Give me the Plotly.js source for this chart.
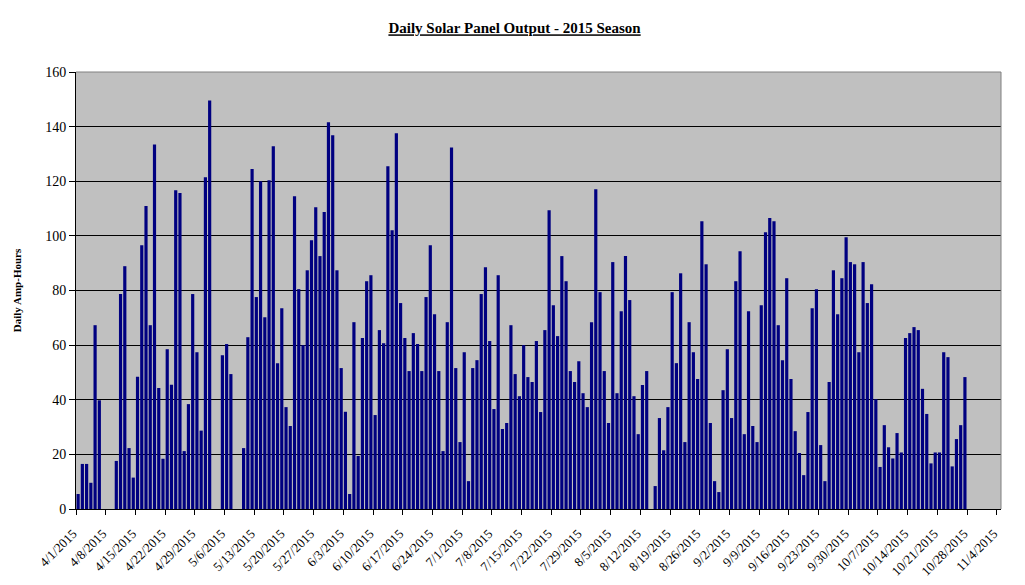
<!DOCTYPE html>
<html>
<head>
<meta charset="utf-8">
<script src="https://cdn.plot.ly/plotly-3.0.1.min.js"></script>
<style>html,body{margin:0;padding:0;background:#fff;}#chart{width:1025px;height:585px;}</style>
</head>
<body>
<div id="chart"></div>
<script>
// Season start and daily amp-hour readings (one value per day from 4/1/2015 to 11/4/2015)
const seasonStart = '2015-04-01';
const ampHours = [
  5.5, 16.5, 16.5, 9.6, 67.3, 39.8, 0, 0, 0, 17.6,
  78.7, 88.9, 22.3, 11.5, 48.4, 96.6, 110.9, 67.3, 133.5, 44.3,
  18.4, 58.5, 45.5, 116.7, 115.7, 21.2, 38.4, 78.7, 57.4, 28.7,
  121.5, 149.6, 0, 0, 56.3, 60.4, 49.4, 0, 0, 22.3,
  62.9, 124.5, 77.6, 120, 70.2, 120.4, 132.8, 53.4, 73.5, 37.3,
  30.4, 114.5, 80.5, 60, 87.4, 98.4, 110.5, 92.6, 108.7, 141.6,
  136.8, 87.4, 51.6, 35.6, 5.5, 68.4, 19.4, 62.6, 83.4, 85.6,
  34.4, 65.5, 60.7, 125.5, 102.1, 137.6, 75.4, 62.6, 50.5, 64.4,
  60.4, 50.5, 77.6, 96.6, 71.3, 50.5, 21.2, 68.4, 132.4, 51.6,
  24.5, 57.4, 10.2, 51.6, 54.5, 78.7, 88.5, 61.5, 36.6, 85.6,
  29.3, 31.5, 67.3, 49.4, 41.3, 60, 48.3, 46.5, 61.5, 35.5,
  65.5, 109.4, 74.6, 63.3, 92.6, 83.4, 50.5, 46.5, 54.1, 42.4,
  37.3, 68.4, 117.1, 79.4, 50.5, 31.5, 90.4, 42.4, 72.4, 92.6,
  76.5, 41.3, 27.4, 45.4, 50.5, 0, 8.4, 33.3, 21.5, 37.3,
  79.4, 53.4, 86.3, 24.5, 68.4, 57.4, 47.6, 105.4, 89.6, 31.5,
  10.2, 6.2, 43.5, 58.5, 33.3, 83.4, 94.4, 27.4, 72.4, 30.4,
  24.5, 74.6, 101.3, 106.5, 105.4, 67.3, 54.5, 84.5, 47.6, 28.5,
  20.5, 12.4, 35.5, 73.5, 80.5, 23.4, 10.2, 46.5, 87.4, 71.3,
  84.5, 99.5, 90.4, 89.6, 57.4, 90.4, 75.4, 82.3, 40.2, 15.4,
  30.7, 22.6, 18.5, 27.8, 20.7, 62.6, 64.4, 66.6, 65.5, 44,
  34.8, 16.7, 20.7, 20.7, 57.4, 55.6, 15.6, 25.6, 30.7, 48.3,
  0, 0, 0, 0, 0, 0, 0, 0
];
const yTickValues = [0, 20, 40, 60, 80, 100, 120, 140, 160];
const chartTitle = 'Daily Solar Panel Output - 2015 Season';
const yTitle = 'Daily Amp-Hours';

// consecutive calendar days (category axis), each bar centred in its day
const DAY = 86400000;
const t0 = Date.parse(seasonStart + 'T00:00:00Z');
function iso(ms) { return new Date(ms).toISOString().slice(0, 19).replace('T', ' '); }
const days = ampHours.map((_, i) => iso(t0 + i * DAY + DAY / 2));
const axisEnd = iso(t0 + ampHours.length * DAY);

const serif = 'Liberation Serif, Times New Roman, serif';

const trace = {
  type: 'bar',
  x: days,
  y: ampHours,
  marker: { color: '#000080', line: { width: 0 } },
  hoverinfo: 'x+y'
};

const layout = {
  width: 1025,
  height: 585,
  margin: { l: 76, r: 24, t: 72, b: 76, pad: 0 },
  paper_bgcolor: '#ffffff',
  plot_bgcolor: '#c0c0c0',
  bargap: 0.25,
  showlegend: false,
  font: { family: serif, color: '#000000', size: 13 },
  title: {
    text: '<u><b>' + chartTitle + '</b></u>',
    font: { family: serif, size: 15, color: '#000000' },
    x: 0.502, xanchor: 'center',
    y: 0.952, yanchor: 'middle', yref: 'container'
  },
  xaxis: {
    type: 'date',
    range: [seasonStart, axisEnd],
    tick0: seasonStart,
    dtick: 7 * DAY,
    tickformat: '%-m/%-d/%Y',
    tickangle: -45,
    ticks: 'outside',
    ticklen: 5,
    tickcolor: '#000000',
    ticklabelstandoff: 6,
    ticklabelshift: -3,
    showline: true,
    linecolor: '#000000',
    linewidth: 1,
    showgrid: false,
    zeroline: false,
    tickfont: { family: serif, size: 13, color: '#000000' }
  },
  yaxis: {
    range: [0, 160],
    tickvals: yTickValues,
    ticks: 'outside',
    ticklen: 6,
    tickcolor: '#000000',
    showline: true,
    linecolor: '#000000',
    linewidth: 1,
    showgrid: true,
    gridcolor: '#000000',
    gridwidth: 1,
    zeroline: false,
    tickfont: { family: serif, size: 14, color: '#000000' },
    title: { text: '<b>' + yTitle + '</b>', font: { family: serif, size: 11, color: '#000000' }, standoff: 21 }
  },
  shapes: [
    { type: 'line', xref: 'paper', yref: 'paper', x0: 0, x1: 1, y0: 1, y1: 1, line: { color: '#808080', width: 1 }, layer: 'above' },
    { type: 'line', xref: 'paper', yref: 'paper', x0: 1, x1: 1, y0: 0, y1: 1, line: { color: '#808080', width: 1 }, layer: 'above' }
  ]
};

Plotly.newPlot('chart', [trace], layout, { displayModeBar: false, staticPlot: true });
</script>
</body>
</html>
